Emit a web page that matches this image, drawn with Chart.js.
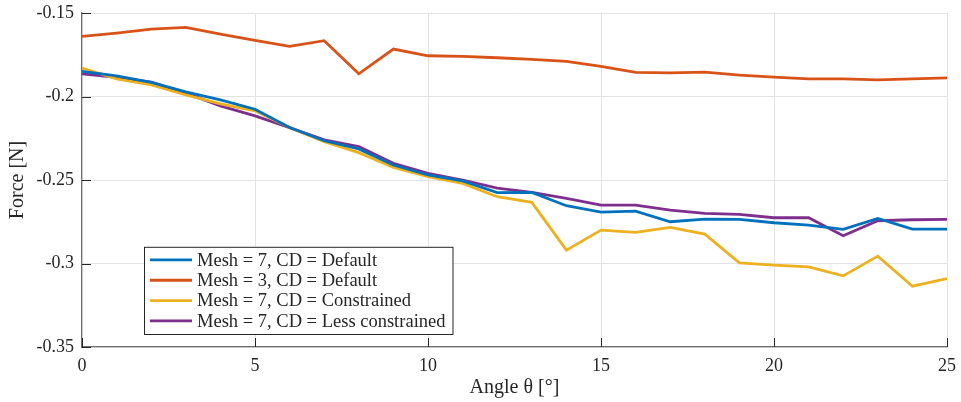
<!DOCTYPE html>
<html>
<head>
<meta charset="utf-8">
<script src="https://cdn.jsdelivr.net/npm/chart.js@4.4.1/dist/chart.umd.min.js"></script>
<style>
  html, body { margin: 0; padding: 0; background: #fff; }
  #wrap { width: 961px; height: 402px; }
</style>
</head>
<body>
<div id="wrap"><canvas id="force-chart" width="961" height="402"></canvas></div>
<script>
// angle samples (degrees)
const angles = [0, 1, 2, 3, 4, 5, 6, 7, 8, 9, 10, 11, 12, 13, 14, 15, 16, 17, 18, 19, 20, 21, 22, 23, 24, 25];

// force values (N)
const mesh7Default = [-0.185, -0.1876, -0.1915, -0.1972, -0.202, -0.2076, -0.2186, -0.2265, -0.2314, -0.241, -0.247, -0.2505,
  -0.2576, -0.2574, -0.2654, -0.2692, -0.2686, -0.275, -0.2734, -0.2736, -0.2756, -0.277, -0.2796, -0.273, -0.2794, -0.2794];
const mesh3Default = [-0.164, -0.162, -0.1596, -0.1586, -0.1626, -0.1664, -0.170, -0.1666, -0.1864, -0.1716, -0.1756, -0.176,
  -0.1768, -0.1778, -0.179, -0.182, -0.1856, -0.1858, -0.1854, -0.1872, -0.1884, -0.1894, -0.1894, -0.190, -0.1894, -0.1888];
const mesh7Constrained = [-0.183, -0.1894, -0.193, -0.199, -0.2044, -0.2086, -0.2186, -0.227, -0.2336, -0.2424, -0.248, -0.252,
  -0.26, -0.2634, -0.292, -0.280, -0.2814, -0.2784, -0.2824, -0.2996, -0.301, -0.302, -0.3074, -0.2956, -0.3136, -0.309];
const mesh7LessConstrained = [-0.1865, -0.1886, -0.1914, -0.198, -0.2056, -0.2116, -0.2186, -0.226, -0.230, -0.240, -0.246, -0.25,
  -0.2548, -0.2574, -0.261, -0.265, -0.265, -0.268, -0.270, -0.2706, -0.2726, -0.2726, -0.2834, -0.2744, -0.2738, -0.2736];

const seriesLabels = [
  'Mesh = 7, CD = Default',
  'Mesh = 3, CD = Default',
  'Mesh = 7, CD = Constrained',
  'Mesh = 7, CD = Less constrained',
];

const xTicks = [0, 5, 10, 15, 20, 25];
const yTicks = [-0.35, -0.3, -0.25, -0.2, -0.15];
const yTickLabels = ['-0.35', '-0.3', '-0.25', '-0.2', '-0.15'];

const colors = ['#0072BD', '#D95319', '#EDB120', '#7E2F8E'];
const FONT = '"Liberation Serif", "DejaVu Serif", serif';

const makeSeries = (values, i) => ({
  label: seriesLabels[i],
  data: angles.map((a, k) => ({ x: a, y: values[k] })),
  borderColor: colors[i],
  backgroundColor: colors[i],
  borderWidth: 2.8,
  pointRadius: 0,
  tension: 0,
  fill: false,
});

/**
 * Inward tick marks, like a MATLAB axes
 */
const inwardTicks = {
  id: 'inwardTicks',
  afterDatasetsDraw(chart) {
    const { ctx, chartArea, scales } = chart;
    const len = 9;
    ctx.save();
    ctx.strokeStyle = '#262626';
    ctx.lineWidth = 1;
    xTicks.forEach(v => {
      const px = Math.round(scales.x.getPixelForValue(v)) + 0.5;
      ctx.beginPath();
      ctx.moveTo(px, chartArea.bottom);
      ctx.lineTo(px, chartArea.bottom - len);
      ctx.stroke();
    });
    yTicks.forEach(v => {
      const py = Math.round(scales.y.getPixelForValue(v)) + 0.5;
      ctx.beginPath();
      ctx.moveTo(chartArea.left, py);
      ctx.lineTo(chartArea.left + len, py);
      ctx.stroke();
    });
    ctx.restore();
  },
};

/**
 * Boxed legend placed inside the axes (lower left)
 */
const boxLegend = {
  id: 'boxLegend',
  afterDraw(chart) {
    const { ctx } = chart;
    const sets = chart.data.datasets;
    const left = 144, bottom = 334, rowH = 20.3, lineLen = 42;
    ctx.save();
    ctx.font = `18.5px ${FONT}`;
    const textW = Math.max(...sets.map(s => ctx.measureText(s.label).width));
    const w = 6 + lineLen + 5 + textW + 7;
    const h = sets.length * rowH + 6;
    const top = bottom - h;
    ctx.fillStyle = '#fff';
    ctx.fillRect(left, top, w, h);
    ctx.strokeStyle = '#262626';
    ctx.lineWidth = 1;
    ctx.strokeRect(left + 0.5, top + 0.5, w, h);
    ctx.textBaseline = 'middle';
    sets.forEach((s, i) => {
      const y = top + 3 + rowH * (i + 0.5);
      ctx.strokeStyle = s.borderColor;
      ctx.lineWidth = 2.8;
      ctx.beginPath();
      ctx.moveTo(left + 6, y);
      ctx.lineTo(left + 6 + lineLen, y);
      ctx.stroke();
      ctx.fillStyle = '#262626';
      ctx.fillText(s.label, left + 6 + lineLen + 5, y + 1);
    });
    ctx.restore();
  },
};

const ctx = document.getElementById('force-chart').getContext('2d');

new Chart(ctx, {
  type: 'line',
  data: {
    datasets: [mesh7Default, mesh3Default, mesh7Constrained, mesh7LessConstrained].map(makeSeries),
  },
  options: {
    responsive: false,
    animation: false,
    layout: { padding: { top: 13, right: 14, left: 0, bottom: 0 } },
    scales: {
      x: {
        type: 'linear',
        min: 0,
        max: 25,
        afterBuildTicks: scale => { scale.ticks = xTicks.map(v => ({ value: v })); },
        afterFit: scale => {
          scale.height = 55;
          scale.paddingLeft = 0;
          scale.paddingRight = 0;
        },
        grid: { color: '#e3e3e3', tickLength: 0, drawTicks: false },
        border: { color: '#6e6e6e', width: 1.2 },
        ticks: {
          color: '#262626',
          padding: 8,
          maxRotation: 0,
          font: { family: FONT, size: 18 },
        },
        title: {
          display: true,
          text: 'Angle θ [°]',
          color: '#262626',
          padding: { top: 0, bottom: 2 },
          font: { family: FONT, size: 20 },
        },
      },
      y: {
        type: 'linear',
        min: -0.35,
        max: -0.15,
        afterBuildTicks: scale => { scale.ticks = yTicks.map(v => ({ value: v })); },
        afterFit: scale => {
          scale.width = 82;
          scale.paddingTop = 0;
          scale.paddingBottom = 0;
        },
        grid: { color: '#e3e3e3', tickLength: 0, drawTicks: false },
        border: { color: '#6e6e6e', width: 1.2 },
        ticks: {
          color: '#262626',
          padding: 8,
          font: { family: FONT, size: 18 },
          callback: value => yTickLabels[yTicks.findIndex(t => Math.abs(t - value) < 1e-9)],
        },
        title: {
          display: true,
          text: 'Force [N]',
          color: '#262626',
          padding: { top: 6, bottom: 0 },
          font: { family: FONT, size: 20 },
        },
      },
    },
    plugins: {
      legend: { display: false },
      tooltip: { enabled: false },
    },
  },
  plugins: [inwardTicks, boxLegend],
});
</script>
</body>
</html>
